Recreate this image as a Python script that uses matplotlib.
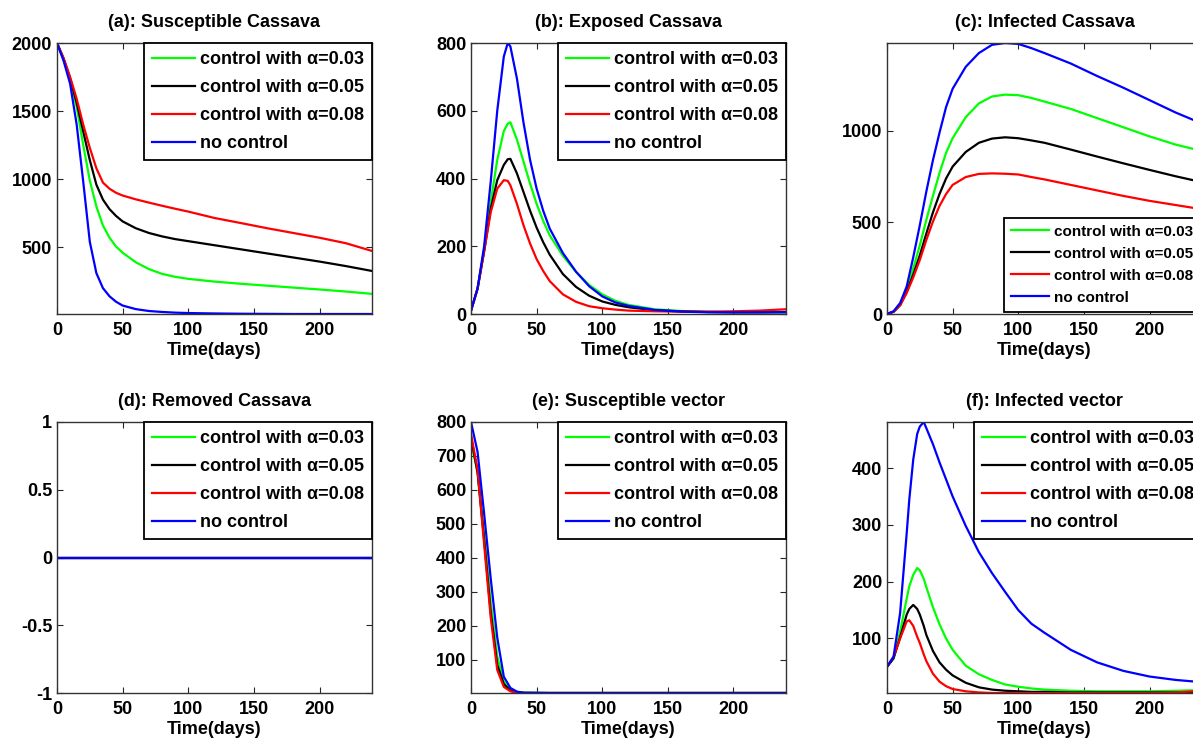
import matplotlib
matplotlib.use("Agg")
import matplotlib.pyplot as plt

# ---------------- data ----------------
labels = ["control with \u03b1=0.03", "control with \u03b1=0.05",
          "control with \u03b1=0.08", "no control"]
colors = ["#00ff00", "#000000", "#ff0000", "#0000ff"]

# (a) susceptible cassava
t_a = [0, 5, 10, 15, 20, 25, 30, 35, 40, 45, 50, 60, 70, 80, 90, 100, 120, 140, 160, 180, 200, 220, 240]
sc_a03 = [2000, 1880, 1730, 1530, 1250, 990, 800, 660, 570, 505, 460, 390, 340, 305, 283, 268, 248, 232, 218, 204, 190, 175, 158]
sc_a05 = [2000, 1885, 1740, 1560, 1350, 1140, 960, 850, 780, 730, 690, 640, 605, 580, 560, 545, 515, 485, 455, 425, 395, 362, 326]
sc_a08 = [2000, 1890, 1750, 1590, 1400, 1230, 1080, 975, 930, 900, 880, 852, 828, 805, 783, 762, 715, 678, 640, 605, 570, 530, 473]
sc_none = [2000, 1870, 1700, 1400, 980, 540, 310, 200, 140, 100, 72, 46, 32, 25, 20, 17, 14, 12, 11, 10, 10, 10, 10]

# (b) exposed cassava
t_b = [0, 5, 10, 15, 20, 25, 28, 30, 35, 40, 45, 50, 55, 60, 70, 80, 90, 100, 110, 120, 140, 160, 180, 200, 220, 240]
ec_a03 = [10, 75, 190, 330, 455, 540, 562, 566, 515, 450, 385, 325, 275, 232, 172, 124, 86, 58, 39, 27, 14, 9, 6, 5, 5, 5]
ec_a05 = [10, 75, 185, 310, 395, 440, 457, 458, 415, 360, 305, 255, 212, 175, 118, 80, 54, 37, 27, 20, 11, 8, 6, 5, 5, 6]
ec_a08 = [10, 75, 185, 300, 370, 395, 393, 380, 325, 262, 208, 162, 127, 97, 58, 36, 23, 17, 13, 10, 8, 7, 7, 8, 10, 14]
ec_none = [10, 75, 200, 390, 600, 760, 800, 790, 695, 565, 455, 370, 305, 252, 180, 125, 82, 52, 34, 24, 12, 7, 5, 5, 5, 5]

# (c) infected cassava
t_c = [0, 5, 10, 15, 20, 25, 30, 35, 40, 45, 50, 60, 70, 80, 90, 100, 110, 120, 140, 160, 180, 200, 220, 240]
ic_a03 = [0, 12, 50, 130, 250, 375, 515, 645, 770, 880, 960, 1075, 1150, 1188, 1198, 1195, 1180, 1160, 1120, 1070, 1020, 970, 925, 890]
ic_a05 = [0, 12, 48, 120, 215, 320, 440, 555, 655, 740, 805, 885, 935, 958, 965, 960, 948, 935, 898, 860, 823, 787, 752, 720]
ic_a08 = [0, 12, 48, 115, 200, 295, 405, 505, 590, 655, 705, 748, 765, 768, 766, 762, 748, 735, 705, 675, 645, 618, 595, 572]
ic_none = [0, 15, 60, 150, 310, 485, 670, 840, 990, 1130, 1230, 1350, 1425, 1470, 1480, 1475, 1452, 1425, 1368, 1300, 1236, 1168, 1100, 1040]

# (d) removed cassava
t_d = [0, 240]
rc_a03 = [0, 0]
rc_a05 = [0, 0]
rc_a08 = [0, 0]
rc_none = [0, 0]

# (e) susceptible vector
t_e = [0, 5, 10, 15, 20, 25, 30, 35, 40, 60, 100, 150, 200, 240]
sv_a03 = [740, 655, 470, 270, 110, 35, 12, 5, 3, 2, 2, 2, 2, 2]
sv_a05 = [755, 650, 455, 240, 85, 28, 9, 4, 2, 2, 2, 2, 2, 2]
sv_a08 = [765, 660, 440, 225, 70, 20, 7, 3, 2, 2, 2, 2, 2, 2]
sv_none = [800, 712, 530, 340, 165, 50, 17, 6, 3, 2, 2, 2, 2, 2]

# (f) infected vector
t_f = [0, 5, 10, 15, 17, 20, 23, 25, 28, 30, 35, 40, 45, 50, 60, 70, 80, 90, 100, 110, 120, 140, 160, 180, 200, 220, 240]
iv_a03 = [50, 65, 112, 170, 192, 212, 224, 220, 205, 190, 155, 125, 100, 80, 52, 37, 27, 19, 15, 12, 10, 8, 7, 7, 7, 8, 9]
iv_a05 = [50, 65, 102, 142, 152, 159, 152, 142, 122, 106, 78, 58, 45, 35, 22, 14, 10, 8, 7, 6, 6, 5, 5, 5, 5, 5, 6]
iv_a08 = [50, 68, 100, 130, 132, 122, 103, 92, 72, 60, 38, 24, 16, 11, 7, 5, 4, 4, 4, 4, 4, 4, 4, 4, 4, 5, 8]
iv_none = [50, 68, 145, 285, 345, 415, 460, 473, 481, 470, 442, 410, 380, 350, 298, 252, 215, 182, 150, 126, 110, 80, 58, 43, 33, 27, 23]

# ---------------- style ----------------
plt.rcParams["font.family"] = ["Liberation Sans", "DejaVu Sans"]
plt.rcParams["font.weight"] = "bold"
plt.rcParams["axes.titleweight"] = "bold"
plt.rcParams["axes.labelweight"] = "bold"
FS = 13.0
FS_SMALL = 11.0

W, H = 1193, 744
fig = plt.figure(figsize=(W / 100, H / 100), dpi=100)


def em(px, fs):
    # pixel length -> multiples of the font size
    return px / (fs * 100 / 72)


def px_axes(left, top, width, height):
    return fig.add_axes([left / W, 1 - (top + height) / H, width / W, height / H])


def draw(ax, t, series, title, ylim, yticks, yticklabels=None,
         legend_kw=None, legend_fs=FS):
    for y, c, lab in zip(series, colors, labels):
        ax.plot(t, y, color=c, lw=1.6, label=lab)
    ax.set_xlim(0, 240)
    ax.set_xticks([0, 50, 100, 150, 200])
    ax.set_ylim(*ylim)
    ax.set_yticks(yticks)
    if yticklabels is not None:
        ax.set_yticklabels(yticklabels)
    ax.tick_params(direction="in", top=True, right=True, length=4,
                   width=0.8, labelsize=FS, colors="#262626",
                   labelcolor="black")
    ax.tick_params(axis="x", pad=5.5)
    ax.tick_params(axis="y", pad=3.5)
    for s in ax.spines.values():
        s.set_color("#333333")
        s.set_linewidth(1.0)
    ax.set_title(title, fontsize=FS, pad=11.5)
    ax.set_xlabel("Time(days)", fontsize=FS, labelpad=2.5)
    kw = dict(loc="upper right", fontsize=legend_fs, frameon=True,
              fancybox=False, edgecolor="black", framealpha=1,
              borderaxespad=0, handlelength=em(43, legend_fs),
              handletextpad=em(5, legend_fs),
              labelspacing=em(11, legend_fs), borderpad=em(8, legend_fs))
    if legend_kw:
        kw.update(legend_kw)
    leg = ax.legend(**kw)
    leg.get_frame().set_linewidth(1.3)
    return ax


col_left = [57, 471, 887]
row_top = [43, 422]
AW, AH = 315, 271

ax_a = px_axes(col_left[0], row_top[0], AW, AH)
draw(ax_a, t_a, [sc_a03, sc_a05, sc_a08, sc_none], "(a): Susceptible Cassava",
     (min(sc_none), 2000), [500, 1000, 1500, 2000])

ax_b = px_axes(col_left[1], row_top[0], AW, AH)
draw(ax_b, t_b, [ec_a03, ec_a05, ec_a08, ec_none], "(b): Exposed Cassava",
     (0, 800), [0, 200, 400, 600, 800])

ax_c = px_axes(col_left[2], row_top[0], AW, AH)
draw(ax_c, t_c, [ic_a03, ic_a05, ic_a08, ic_none], "(c): Infected Cassava",
     (0, max(ic_none)), [0, 500, 1000],
     legend_kw=dict(loc="lower right", borderaxespad=0.15,
                    handlelength=em(38, FS_SMALL),
                    handletextpad=em(5, FS_SMALL),
                    labelspacing=em(8, FS_SMALL),
                    borderpad=em(7, FS_SMALL)),
     legend_fs=FS_SMALL)

ax_d = px_axes(col_left[0], row_top[1], AW, AH)
draw(ax_d, t_d, [rc_a03, rc_a05, rc_a08, rc_none], "(d): Removed Cassava",
     (-1, 1), [-1, -0.5, 0, 0.5, 1], ["-1", "-0.5", "0", "0.5", "1"])

ax_e = px_axes(col_left[1], row_top[1], AW, AH)
draw(ax_e, t_e, [sv_a03, sv_a05, sv_a08, sv_none], "(e): Susceptible vector",
     (min(sv_none), 800), [100, 200, 300, 400, 500, 600, 700, 800])

ax_f = px_axes(col_left[2], row_top[1], AW, AH)
draw(ax_f, t_f, [iv_a03, iv_a05, iv_a08, iv_none], "(f): Infected vector",
     (min(iv_a08), max(iv_none)), [100, 200, 300, 400])

fig.savefig("out.png", dpi=100, facecolor="white")
